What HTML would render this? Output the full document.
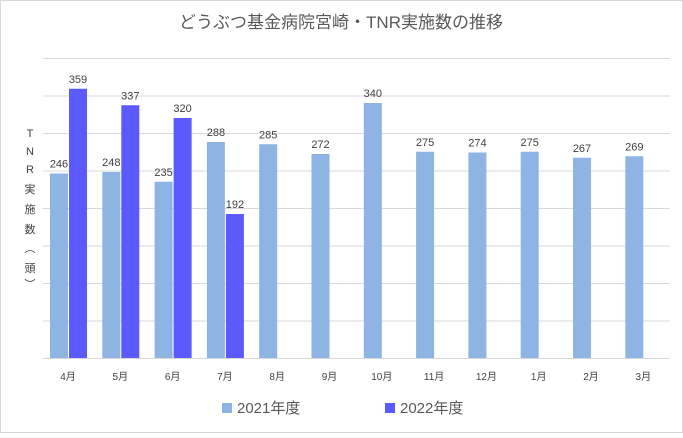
<!DOCTYPE html>
<html><head><meta charset="utf-8"><style>
body{margin:0;background:#fff}
svg text{font-family:"Liberation Sans","Noto Sans CJK JP",sans-serif;fill:#404040}
</style></head><body>
<svg width="683" height="433" xmlns="http://www.w3.org/2000/svg">
<rect x="0.5" y="0.5" width="682" height="432" fill="#fff" stroke="#d9d9d9"/>
<text x="341" y="28" font-size="17" text-anchor="middle" style="fill:#595959">どうぶつ基金病院宮崎・TNR実施数の推移</text>
<g stroke="#d9d9d9" stroke-width="1">
<line x1="43" x2="670" y1="58.5" y2="58.5"/>
<line x1="43" x2="670" y1="96" y2="96"/>
<line x1="43" x2="670" y1="133.5" y2="133.5"/>
<line x1="43" x2="670" y1="171" y2="171"/>
<line x1="43" x2="670" y1="208.5" y2="208.5"/>
<line x1="43" x2="670" y1="246" y2="246"/>
<line x1="43" x2="670" y1="283.5" y2="283.5"/>
<line x1="43" x2="670" y1="321" y2="321"/>
<line x1="43" x2="670" y1="358.5" y2="358.5"/>
</g>
<g font-size="11" text-anchor="middle">
<text x="30" y="137">T</text><text x="30" y="155">N</text><text x="30" y="173">R</text>
<text x="30" y="193">実</text><text x="30" y="213">施</text><text x="30" y="233">数</text>
<text x="30" y="252">︵</text><text x="30" y="272">頭</text><text x="30" y="288">︶</text>
</g>
<g fill="#8eb4e3">
<rect x="50" y="173.5" width="18" height="184.5"/>
<rect x="102.3" y="172" width="18" height="186"/>
<rect x="154.6" y="181.75" width="18" height="176.25"/>
<rect x="206.9" y="142" width="18" height="216"/>
<rect x="259.2" y="144.25" width="18" height="213.75"/>
<rect x="311.5" y="154" width="18" height="204"/>
<rect x="363.8" y="103" width="18" height="255"/>
<rect x="416.1" y="151.75" width="18" height="206.25"/>
<rect x="468.4" y="152.5" width="18" height="205.5"/>
<rect x="520.7" y="151.75" width="18" height="206.25"/>
<rect x="573" y="157.75" width="18" height="200.25"/>
<rect x="625.3" y="156.25" width="18" height="201.75"/>
</g>
<g fill="#5a5aff">
<rect x="69" y="88.75" width="18" height="269.25"/>
<rect x="121.3" y="105.25" width="18" height="252.75"/>
<rect x="173.6" y="118" width="18" height="240"/>
<rect x="225.9" y="214" width="18" height="144"/>
</g>
<g font-size="11" text-anchor="middle">
<text x="59" y="167.5">246</text><text x="111.3" y="166">248</text><text x="163.6" y="175.75">235</text><text x="215.9" y="136">288</text>
<text x="268.2" y="138.25">285</text><text x="320.5" y="148">272</text><text x="372.8" y="97">340</text><text x="425.1" y="145.75">275</text>
<text x="477.4" y="146.5">274</text><text x="529.7" y="145.75">275</text><text x="582" y="151.75">267</text><text x="634.3" y="150.25">269</text>
<text x="78" y="82.75">359</text><text x="130.3" y="99.25">337</text><text x="182.6" y="112">320</text><text x="234.9" y="208">192</text>
</g>
<g font-size="10" text-anchor="middle">
<text x="68" y="380">4月</text><text x="120.3" y="380">5月</text><text x="172.6" y="380">6月</text><text x="224.9" y="380">7月</text>
<text x="277.2" y="380">8月</text><text x="329.5" y="380">9月</text><text x="381.8" y="380">10月</text><text x="434.1" y="380">11月</text>
<text x="486.4" y="380">12月</text><text x="538.7" y="380">1月</text><text x="591" y="380">2月</text><text x="643.3" y="380">3月</text>
</g>
<rect x="222" y="403" width="10" height="10" fill="#8eb4e3"/>
<text x="237" y="413" font-size="15" style="fill:#595959">2021年度</text>
<rect x="385" y="403" width="10" height="10" fill="#5a5aff"/>
<text x="400" y="413" font-size="15" style="fill:#595959">2022年度</text>
</svg>
</body></html>
